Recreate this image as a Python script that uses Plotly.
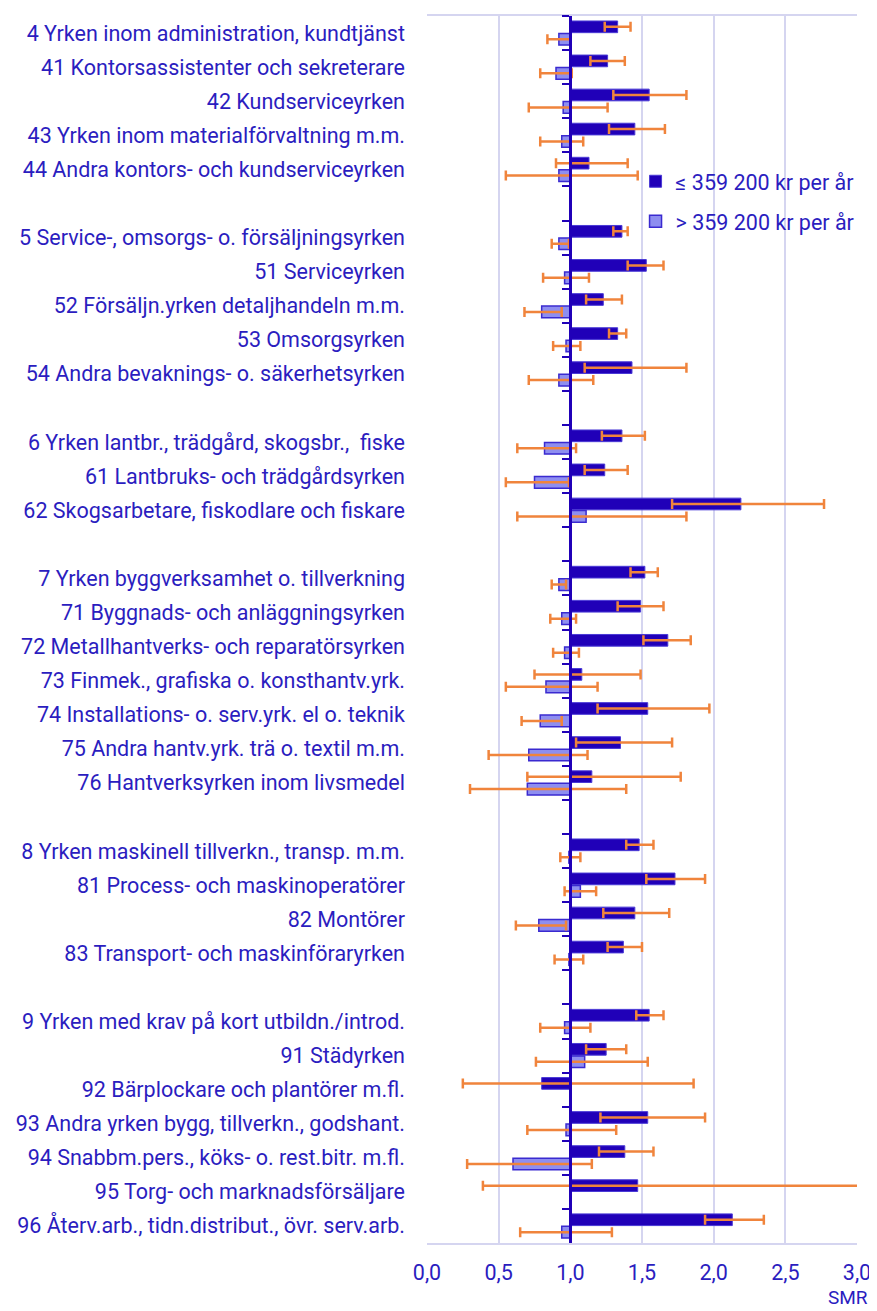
import plotly.graph_objects as go

# Categories (blank entries are spacer rows between occupational groups)
categories = [
    "4 Yrken inom administration, kundtjänst",
    "41 Kontorsassistenter och sekreterare",
    "42 Kundserviceyrken",
    "43 Yrken inom materialförvaltning m.m.",
    "44 Andra kontors- och kundserviceyrken",
    " ",
    "5 Service-, omsorgs- o. försäljningsyrken",
    "51 Serviceyrken",
    "52 Försäljn.yrken detaljhandeln m.m.",
    "53 Omsorgsyrken",
    "54 Andra bevaknings- o. säkerhetsyrken",
    "  ",
    "6 Yrken lantbr., trädgård, skogsbr.,  fiske",
    "61 Lantbruks- och trädgårdsyrken",
    "62 Skogsarbetare, fiskodlare och fiskare",
    "   ",
    "7 Yrken byggverksamhet o. tillverkning",
    "71 Byggnads- och anläggningsyrken",
    "72 Metallhantverks- och reparatörsyrken",
    "73 Finmek., grafiska o. konsthantv.yrk.",
    "74 Installations- o. serv.yrk. el o. teknik",
    "75 Andra hantv.yrk. trä o. textil m.m.",
    "76 Hantverksyrken inom livsmedel",
    "    ",
    "8 Yrken maskinell tillverkn., transp. m.m.",
    "81 Process- och maskinoperatörer",
    "82 Montörer",
    "83 Transport- och maskinföraryrken",
    "     ",
    "9 Yrken med krav på kort utbildn./introd.",
    "91 Städyrken",
    "92 Bärplockare och plantörer m.fl.",
    "93 Andra yrken bygg, tillverkn., godshant.",
    "94 Snabbm.pers., köks- o. rest.bitr. m.fl.",
    "95 Torg- och marknadsförsäljare",
    "96 Återv.arb., tidn.distribut., övr. serv.arb.",
]

# SMR, income <= 359 200 kr per year
low_smr = [1.33, 1.26, 1.55, 1.45, 1.13, None,
           1.36, 1.53, 1.23, 1.33, 1.43, None,
           1.36, 1.24, 2.19, None,
           1.52, 1.49, 1.68, 1.08, 1.54, 1.35, 1.15, None,
           1.48, 1.73, 1.45, 1.37, None,
           1.55, 1.25, 0.80, 1.54, 1.38, 1.47, 2.13]
low_lo = [1.24, 1.14, 1.30, 1.27, 0.90, None,
          1.30, 1.40, 1.11, 1.27, 1.10, None,
          1.22, 1.10, 1.71, None,
          1.42, 1.33, 1.51, 0.75, 1.19, 1.04, 0.70, None,
          1.39, 1.53, 1.23, 1.26, None,
          1.46, 1.11, 0.25, 1.21, 1.20, 0.39, 1.94]
low_hi = [1.42, 1.38, 1.81, 1.66, 1.40, None,
          1.40, 1.65, 1.36, 1.39, 1.81, None,
          1.52, 1.40, 2.77, None,
          1.61, 1.65, 1.84, 1.49, 1.97, 1.71, 1.77, None,
          1.58, 1.94, 1.69, 1.50, None,
          1.65, 1.39, 1.86, 1.94, 1.58, 3.40, 2.35]

# SMR, income > 359 200 kr per year
high_smr = [0.92, 0.90, 0.95, 0.94, 0.92, None,
            0.92, 0.96, 0.80, 0.97, 0.92, None,
            0.82, 0.75, 1.11, None,
            0.92, 0.94, 0.96, 0.83, 0.79, 0.71, 0.70, None,
            0.99, 1.07, 0.78, 0.99, None,
            0.96, 1.10, None, 0.97, 0.60, None, 0.94]
high_lo = [0.84, 0.79, 0.71, 0.79, 0.55, None,
           0.87, 0.81, 0.68, 0.88, 0.71, None,
           0.63, 0.55, 0.63, None,
           0.87, 0.86, 0.88, 0.55, 0.66, 0.43, 0.30, None,
           0.93, 0.96, 0.62, 0.89, None,
           0.79, 0.76, None, 0.70, 0.28, None, 0.65]
high_hi = [1.00, 1.01, 1.26, 1.09, 1.47, None,
           0.99, 1.13, 0.94, 1.07, 1.16, None,
           1.04, 0.99, 1.81, None,
           0.97, 1.04, 1.06, 1.19, 0.94, 1.12, 1.39, None,
           1.07, 1.18, 0.97, 1.09, None,
           1.14, 1.54, None, 1.32, 1.15, None, 1.29]

x_ticks = [0.0, 0.5, 1.0, 1.5, 2.0, 2.5, 3.0]
legend_low = "≤ 359 200 kr per år"
legend_high = "> 359 200 kr per år"

DARK = "#2000b8"
LIGHT = "#8e8ef0"
ORANGE = "#f0843c"
TEXT = "#2b1dbf"
GRID = "#d5d5f0"
FONT = "Roboto"
FS = 21.5


def rel(vals):
    return [None if v is None else v - 1.0 for v in vals]


def plus(vals, hi):
    return [None if v is None else h - v for v, h in zip(vals, hi)]


def minus(vals, lo):
    return [None if v is None else v - l for v, l in zip(vals, lo)]


fig = go.Figure()

fig.add_trace(go.Bar(
    y=categories, x=rel(low_smr), base=1.0, orientation="h",
    name=legend_low, legendgroup="a",
    marker=dict(color=DARK, line=dict(color="#4a3ad6", width=1)),
    error_x=dict(type="data", symmetric=False,
                 array=plus(low_smr, low_hi), arrayminus=minus(low_smr, low_lo),
                 color=ORANGE, thickness=2.5, width=5),
))
fig.add_trace(go.Bar(
    y=categories, x=rel(high_smr), base=1.0, orientation="h",
    name=legend_high, legendgroup="b",
    marker=dict(color=LIGHT, line=dict(color="#3a2ad0", width=1.5)),
    error_x=dict(type="data", symmetric=False,
                 array=plus(high_smr, high_hi), arrayminus=minus(high_smr, high_lo),
                 color=ORANGE, thickness=2.5, width=5),
))
# invisible helper trace for the category axis drawn at SMR = 1
fig.add_trace(go.Scatter(
    y=categories, x=[1.0] * len(categories), yaxis="y2", mode="markers",
    marker=dict(opacity=0), showlegend=False, hoverinfo="skip",
))

n = len(categories)
fig.update_layout(
    width=869, height=1303,
    margin=dict(l=419, r=19, t=6, b=68),
    plot_bgcolor="white", paper_bgcolor="white",
    font=dict(family=FONT, size=FS, color=TEXT),
    separators=", ",
    barmode="group", bargap=0.27, bargroupgap=0.06,
    showlegend=True,
    legend=dict(x=0.485, y=0.882, xanchor="left", yanchor="top",
                bgcolor="rgba(0,0,0,0)", traceorder="grouped",
                tracegroupgap=9, font=dict(size=FS, color=TEXT),
                itemwidth=30),
    xaxis=dict(range=[0, 3], tickvals=x_ticks, tickformat=".1f",
               showgrid=True, gridcolor=GRID, gridwidth=2,
               zeroline=False, showline=True, mirror=True,
               linecolor=GRID, linewidth=2, ticks="",
               ticklabelstandoff=9, tickfont=dict(size=FS, color=TEXT)),
    yaxis=dict(type="category", categoryorder="array", categoryarray=categories,
               range=[n - 0.5, -0.5], showgrid=False, zeroline=False,
               showline=False, ticks="", ticklabelstandoff=21,
               tickfont=dict(size=FS, color=TEXT)),
    yaxis2=dict(type="category", categoryorder="array", categoryarray=categories,
                range=[n - 0.5, -0.5], overlaying="y", anchor="free",
                position=1 / 3, side="left", showgrid=False, zeroline=False,
                showline=True, linecolor=DARK, linewidth=3,
                ticks="outside", tickson="boundaries", ticklen=7,
                tickwidth=2, tickcolor=DARK, showticklabels=False),
    annotations=[dict(text="SMR", xref="paper", yref="paper",
                      x=0.979, y=-0.0553, xanchor="center", yanchor="bottom",
                      showarrow=False, font=dict(size=19, color=TEXT))],
)

fig.write_html("out.html")
